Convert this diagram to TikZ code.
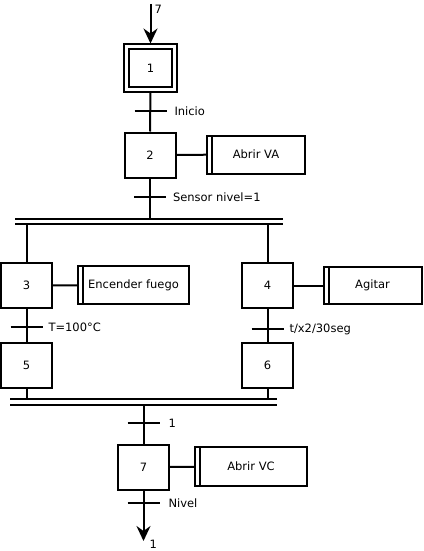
\documentclass[tikz,border=0pt]{standalone}
\usepackage{fontspec}
\setmainfont{DejaVu Sans}
\usepackage{tikz}
\usetikzlibrary{arrows.meta, positioning, calc}

\begin{document}
\begin{tikzpicture}[x=1pt, y=-1pt, line width=2pt,
    font=\fontsize{11.5}{13}\selectfont,
    etapa/.style={draw, minimum width=51pt, minimum height=45pt, inner sep=0pt},
    inicial/.style={etapa, double, double distance=3pt, minimum width=48pt, minimum height=43pt, outer sep=3pt},
    accion/.style={draw, minimum height=38pt, inner sep=0pt,
        path picture={\draw ([xshift=5pt]path picture bounding box.north west) -- ([xshift=5pt]path picture bounding box.south west);}},
    flecha/.style={-{Stealth[length=15pt, width=14pt, inset=5pt]}},
    cond/.style={inner sep=0pt}]

    % Background
    \useasboundingbox (0,0) rectangle (423,551);

    % Steps
    \node[inicial] (e1) at (150.5,68) {1};
    \node[etapa] (e2) at (150,155) {2};
    \node[etapa] (e3) at (26.5,285.5) {3};
    \node[etapa] (e4) at (267.5,285.5) {4};
    \node[etapa] (e5) at (26.5,365) {5};
    \node[etapa] (e6) at (267.5,365) {6};
    \node[etapa] (e7) at (143.5,467) {7};

    % Actions
    \node[accion, minimum width=98pt] (a2) at (256,154.5) {Abrir VA};
    \node[accion, minimum width=111pt] (a3) at (133.5,285) {Encender fuego};
    \node[accion, minimum width=98pt, minimum height=37pt] (a4) at (372.5,285.5) {Agitar};
    \node[accion, minimum width=112pt, minimum height=39pt] (a7) at (251,466.5) {Abrir VC};
    \draw (e2) -- (a2);
    \draw (e3) -- (a3);
    \draw (e4) -- (a4);
    \draw (e7) -- (a7);

    % Entry and exit
    \coordinate (arriba) at (150.5,4);
    \coordinate (abajo) at (143.5,541);
    \draw[flecha] (arriba) -- (e1.north);
    \node[cond, anchor=north west] (n7) at ([xshift=3pt]arriba) {7};

    % Divergence and convergence bars
    \coordinate (divA) at (15,219);
    \coordinate (divB) at (283,219);
    \coordinate (convA) at (10,399);
    \coordinate (convB) at (277,399);
    \draw (divA) -- (divB);
    \draw ([yshift=-5pt]divA) -- ([yshift=-5pt]divB);
    \draw (convA) -- (convB);
    \draw ([yshift=-5.5pt]convA) -- ([yshift=-5.5pt]convB);

    % Links
    \draw (e1) -- (e2);
    \draw (e2.south) -- (e2.south |- divA);
    \draw ([yshift=-5pt]e3.north |- divA) -- (e3.north);
    \draw ([yshift=-5pt]e4.north |- divA) -- (e4.north);
    \draw (e3) -- (e5);
    \draw (e4) -- (e6);
    \draw (e5.south) -- (e5.south |- convA);
    \draw (e6.south) -- (e6.south |- convA);
    \draw ([yshift=-5.5pt]e7.north |- convA) -- (e7.north);
    \draw[flecha] (e7.south) -- (abajo);
    \node[cond, anchor=north west] (n1) at ([xshift=5pt, yshift=2pt]abajo) {1};

    % Transitions
    \coordinate (t1) at (150.5,111);
    \coordinate (t2) at (150,197);
    \coordinate (t3) at (26.5,327);
    \coordinate (t4) at (267.5,329);
    \coordinate (t5) at (143.5,423);
    \coordinate (t6) at (143.5,503);
    \foreach \t in {t1,t2,t3,t4,t5,t6}
        \draw ([xshift=-16pt]\t) -- ([xshift=16pt]\t);
    \node[cond, right=23pt of t1] (c1) {Inicio};
    \node[cond, right=22pt of t2] (c2) {Sensor nivel=1};
    \node[cond, right=21pt of t3] (c3) {T=100°C};
    \node[cond, right=21pt of t4] (c4) {t/x2/30seg};
    \node[cond, right=24pt of t5] (c5) {1};
    \node[cond, right=24pt of t6] (c6) {Nivel};
\end{tikzpicture}
\end{document}
